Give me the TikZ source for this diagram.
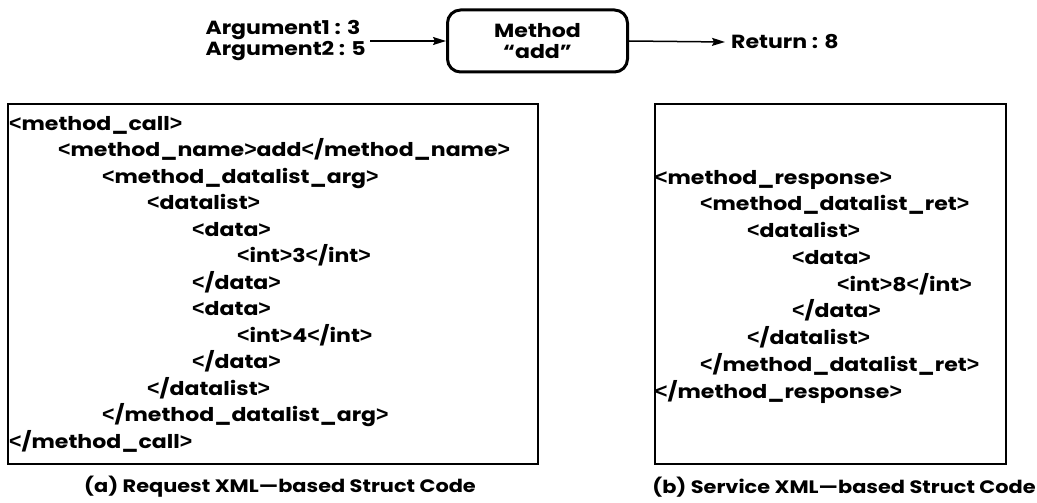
\documentclass[tikz,border=0pt]{standalone}
\usepackage{fontspec}
\setmainfont{Poppins}[FakeStretch=1.16]
\newfontfamily\bracketfont{Liberation Sans}
\usetikzlibrary{arrows.meta}
% angle brackets of the tag text, in a plainer face
\newcommand\brL{{\bracketfont\scalebox{1.12}{<}}}
\newcommand\brR{{\bracketfont\scalebox{1.12}{>}}}

\begin{document}
\begin{tikzpicture}[x=1pt,y=-1pt,
  txt/.style={inner sep=0pt, font=\fontsize{19}{21}\selectfont\bfseries},
  code/.style={txt, anchor=base west},
  caption/.style={inner sep=0pt, font=\fontsize{18}{20}\selectfont\bfseries},
  frame/.style={draw, line width=2pt},
  methodbox/.style={draw, line width=3pt, rounded corners=13pt},
  flow/.style={line width=1.5pt, -{Stealth[length=13pt,width=8pt,inset=2pt]}}
]
% canvas
\useasboundingbox (0,0) rectangle (1037,503);

% ---- method call overview ----
\node[methodbox, minimum width=180pt, minimum height=62pt] (m) at (537.5,41) {};
\node[txt, align=center] (mt) at (m.center) {Method\\``add''};
\node[txt, align=left, anchor=east] (args) at (366,41) {Argument1 : 3\\Argument2 : 5};
\node[txt, anchor=west] (ret) at (731,42) {Return : 8};
\draw[flow] ([xshift=4pt]args.east) -- (m.west);
\draw[flow] (m.east) -- ([xshift=-6pt]ret.west);

% ---- request code ----
\node[frame, minimum width=530pt, minimum height=360pt, anchor=north west] (req) at (7,103) {};
\def\reqx{{9,58,102,147,192,237}}
\foreach \lvl/\t [count=\i from 0] in {
  0/{\brL method\_call\brR},
  1/{\brL method\_name\brR add\brL/method\_name\brR},
  2/{\brL method\_datalist\_arg\brR},
  3/{\brL datalist\brR},
  4/{\brL data\brR},
  5/{\brL int\brR 3\brL/int\brR},
  4/{\brL/data\brR},
  4/{\brL data\brR},
  5/{\brL int\brR 4\brL/int\brR},
  4/{\brL/data\brR},
  3/{\brL/datalist\brR},
  2/{\brL/method\_datalist\_arg\brR},
  0/{\brL/method\_call\brR}}
  \node[code] (r\i) at ({\reqx[\lvl]}, {130+\i*26.5}) {\t};

% ---- response code ----
\node[frame, minimum width=351pt, minimum height=360pt, anchor=north west] (res) at (654,103) {};
\def\resx{{655,700,747,792,837}}
\foreach \lvl/\t [count=\i from 0] in {
  0/{\brL method\_response\brR},
  1/{\brL method\_datalist\_ret\brR},
  2/{\brL datalist\brR},
  3/{\brL data\brR},
  4/{\brL int\brR 8\brL/int\brR},
  3/{\brL/data\brR},
  2/{\brL/datalist\brR},
  1/{\brL/method\_datalist\_ret\brR},
  0/{\brL/method\_response\brR}}
  \node[code] (s\i) at ({\resx[\lvl]}, {184+\i*26.75}) {\t};

% ---- captions ----
\node[caption] (capa) at (280,487) {(a) Request XML—based Struct Code};
\node[caption] (capb) at (844,487) {(b) Service XML—based Struct Code};
\end{tikzpicture}
\end{document}
